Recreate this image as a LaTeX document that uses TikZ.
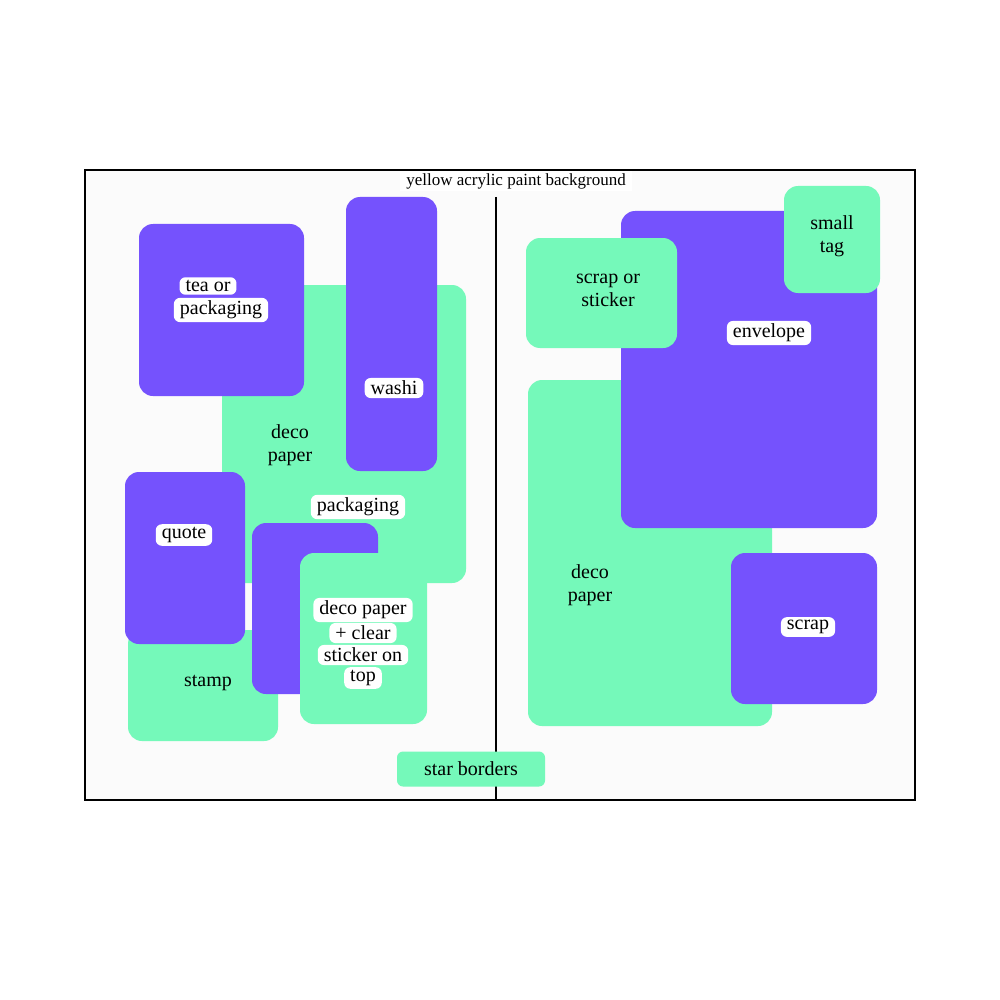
\documentclass[tikz,border=0pt]{standalone}
\usepackage{fontspec}
\setmainfont{Liberation Serif}
\definecolor{grn}{HTML}{75F9BA}
\definecolor{prp}{HTML}{7552FD}
\definecolor{bg}{HTML}{FBFBFB}
\begin{document}
\begin{tikzpicture}[x=1pt,y=-1pt,
  g/.style={fill=grn,rounded corners=14pt},
  p/.style={fill=prp,rounded corners=14pt},
  lbl/.style={fill=white,rounded corners=6pt,inner xsep=6pt,inner ysep=3pt,font=\fontsize{20}{22}\selectfont},
  txt/.style={align=center,font=\fontsize{20}{23}\selectfont}]
\useasboundingbox (0,0) rectangle (1000,1000);
\fill[white] (0,0) rectangle (1000,1000);
\draw[fill=bg,line width=1.5pt] (85,170) rectangle (915,800);
\coordinate (dt) at (496,197); \coordinate (db) at (496,800);
\draw[line width=1.2pt] (dt) -- (db);
\node[fill=white,inner xsep=6pt,inner ysep=2pt,font=\fontsize{17}{19}\selectfont] (title) at (516,181) {yellow acrylic paint background};
% left page
\fill[g] (222,285) rectangle (466,583);
\node[txt] (deco1) at (290,445) {deco\\paper};
\fill[p] (139,224) rectangle (304,396);
\node[lbl] (tea2) at (221,310) {packaging};
\node[lbl] (tea1) at (208,286) {tea or};
\fill[p] (346,197) rectangle (437,471);
\node[lbl] (washi) at (394,388) {washi};
\node[lbl] (pack) at (358,507) {packaging};
\fill[g] (128,630) rectangle (278,741);
\node[txt] (stamp) at (208,683) {stamp};
\fill[p] (125,472) rectangle (245,644);
\node[lbl] (quote) at (184,535) {quote};
\fill[p] (252,523) rectangle (378,694);
\fill[g] (300,553) rectangle (427,724);
\node[lbl] (c1) at (363,610) {deco paper};
\node[lbl] (c3) at (363,655) {sticker on};
\node[lbl] (c2) at (363,633) {+ clear};
\node[lbl] (c4) at (363,678) {top};
% right page
\fill[g] (528,380) rectangle (772,726);
\node[txt] (deco2) at (590,585) {deco\\paper};
\fill[p] (621,211) rectangle (877,528);
\node[lbl] (env) at (769,333) {envelope};
\fill[g] (526,238) rectangle (677,348);
\node[txt] (sos) at (608,290) {scrap or\\sticker};
\fill[g] (784,186) rectangle (880,293);
\node[txt] (tag) at (832,236) {small\\tag};
\fill[p] (731,553) rectangle (877,704);
\node[lbl] (scrap) at (808,627) {scrap};
\node[lbl,fill=grn,minimum width=148pt,minimum height=35pt] (star) at (471,769) {star borders};
\end{tikzpicture}
\end{document}
